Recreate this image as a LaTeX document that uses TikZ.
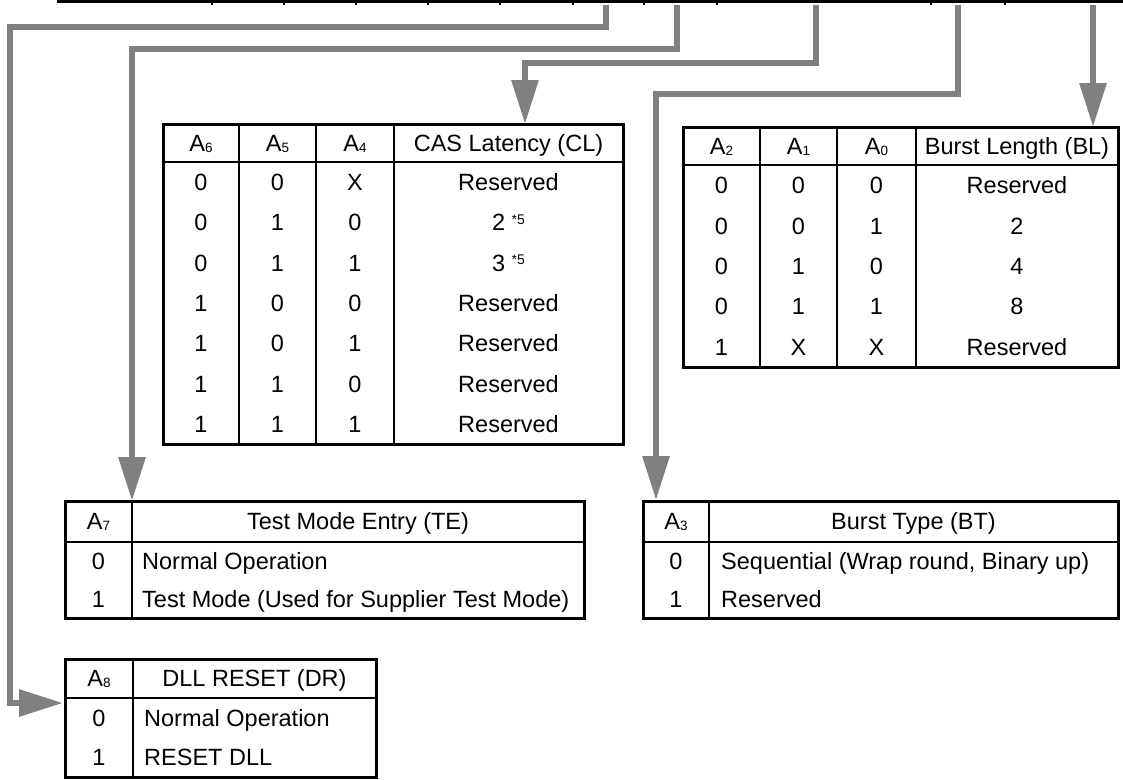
\documentclass[tikz,border=0pt]{standalone}
\usepackage{fontspec}
\setmainfont{Liberation Sans}
\usetikzlibrary{arrows.meta}
\definecolor{feedgray}{RGB}{128,128,128}
\newcommand{\bitsub}[1]{\raisebox{-1pt}{\fontsize{13.5}{13.5}\selectfont #1}}
\newcommand{\notefive}{\raisebox{6.5pt}{\fontsize{14}{14}\selectfont *5}}
\begin{document}
\begin{tikzpicture}[x=1pt,y=-1pt,
  frame/.style={line width=3pt, draw=black},
  rule/.style={line width=2.6pt, draw=black},
  txt/.style={font=\fontsize{23.5}{27}\selectfont, inner sep=0pt, text height=16.8pt, text depth=0pt, anchor=center},
  ltxt/.style={txt, anchor=west},
  feed/.style={draw=feedgray, line width=6pt, -{Triangle[length=44pt,width=26pt]}}
]
\useasboundingbox (0,0) rectangle (1123,779);

% ---- cut-off register table at top
\draw[line width=3pt] (57,1.5) -- (1125,1.5);
\foreach \x in {212,284,356,428,500,573,644,717,931,1005}
  \draw[line width=2pt] (\x,0) -- (\x,4.5);

% ---- named sources and targets
\coordinate (sDR) at (606,5);
\coordinate (sTE) at (677,5);
\coordinate (sCL) at (816,5);
\coordinate (sBT) at (958,5);
\coordinate (sBL) at (1093,5);
\coordinate (tDR) at (63,703);
\coordinate (tTE) at (132,501);
\coordinate (tCL) at (525,124);
\coordinate (tBT) at (656,500);
\coordinate (tBL) at (1093,127);

% ---- connectors
\draw[feed] (sDR) -- (606,27) -- (9.5,27) -- (9.5,703) -- (tDR);
\draw[feed] (sTE) -- (677,49) -- (132,49) -- (tTE);
\draw[feed] (sCL) -- (816,62.5) -- (525,62.5) -- (tCL);
\draw[feed] (sBT) -- (958,94) -- (656,94) -- (tBT);
\draw[feed] (sBL) -- (tBL);

% ---- CAS latency table
\draw[frame] (163,124) rectangle (623,444);
\draw[rule] (163,162) -- (623,162);
\foreach \x in {239,316,394} \draw[rule] (\x,124) -- (\x,444);
\node[txt] (cl-h1) at (201,143) {A\bitsub{6}};
\node[txt] (cl-h2) at (277.5,143) {A\bitsub{5}};
\node[txt] (cl-h3) at (355,143) {A\bitsub{4}};
\node[txt] (cl-h4) at (508.5,143) {CAS Latency (CL)};
\foreach \a/\b/\c/\d [count=\i from 0] in
  {0/0/X/Reserved, 0/1/0/{2 \notefive}, 0/1/1/{3 \notefive}, 1/0/0/Reserved,
   1/0/1/Reserved, 1/1/0/Reserved, 1/1/1/Reserved}{
  \pgfmathsetmacro{\yy}{162+40.29*(\i+0.5)}
  \node[txt] (cl-\i-1) at (201,\yy) {\a};
  \node[txt] (cl-\i-2) at (277.5,\yy) {\b};
  \node[txt] (cl-\i-3) at (355,\yy) {\c};
  \node[txt] (cl-\i-4) at (508.5,\yy) {\d};
}

% ---- Burst length table
\draw[frame] (683,127) rectangle (1118,367);
\draw[rule] (683,165) -- (1118,165);
\foreach \x in {760,837,916} \draw[rule] (\x,127) -- (\x,367);
\node[txt] (bl-h1) at (721.5,146) {A\bitsub{2}};
\node[txt] (bl-h2) at (798.5,146) {A\bitsub{1}};
\node[txt] (bl-h3) at (876.5,146) {A\bitsub{0}};
\node[txt] (bl-h4) at (1017,146) {Burst Length (BL)};
\foreach \a/\b/\c/\d [count=\i from 0] in
  {0/0/0/Reserved, 0/0/1/2, 0/1/0/4, 0/1/1/8, 1/X/X/Reserved}{
  \pgfmathsetmacro{\yy}{165+40.4*(\i+0.5)}
  \node[txt] (bl-\i-1) at (721.5,\yy) {\a};
  \node[txt] (bl-\i-2) at (798.5,\yy) {\b};
  \node[txt] (bl-\i-3) at (876.5,\yy) {\c};
  \node[txt] (bl-\i-4) at (1017,\yy) {\d};
}

% ---- Test mode table
\draw[frame] (65,501) rectangle (584,618);
\draw[rule] (65,542) -- (584,542);
\draw[rule] (132,501) -- (132,618);
\node[txt] (te-h1) at (98.5,521.5) {A\bitsub{7}};
\node[txt] (te-h2) at (358,521.5) {Test Mode Entry (TE)};
\node[txt] (te-0a) at (98.5,561) {0};
\node[ltxt] (te-0b) at (142,561) {Normal Operation};
\node[txt] (te-1a) at (98.5,599) {1};
\node[ltxt] (te-1b) at (142,599) {Test Mode (Used for Supplier Test Mode)};

% ---- Burst type table
\draw[frame] (643,501) rectangle (1118,618);
\draw[rule] (643,542) -- (1118,542);
\draw[rule] (709,501) -- (709,618);
\node[txt] (bt-h1) at (676,521.5) {A\bitsub{3}};
\node[txt] (bt-h2) at (913.5,521.5) {Burst Type (BT)};
\node[txt] (bt-0a) at (676,561) {0};
\node[ltxt] (bt-0b) at (721,561) {Sequential (Wrap round, Binary up)};
\node[txt] (bt-1a) at (676,599) {1};
\node[ltxt] (bt-1b) at (721,599) {Reserved};

% ---- DLL reset table
\draw[frame] (65,659) rectangle (376,777);
\draw[rule] (65,698) -- (376,698);
\draw[rule] (133,659) -- (133,777);
\node[txt] (dr-h1) at (99,678.5) {A\bitsub{8}};
\node[txt] (dr-h2) at (254.5,678.5) {DLL RESET (DR)};
\node[txt] (dr-0a) at (99,718) {0};
\node[ltxt] (dr-0b) at (144,718) {Normal Operation};
\node[txt] (dr-1a) at (99,757.5) {1};
\node[ltxt] (dr-1b) at (144,757.5) {RESET DLL};
\end{tikzpicture}
\end{document}
